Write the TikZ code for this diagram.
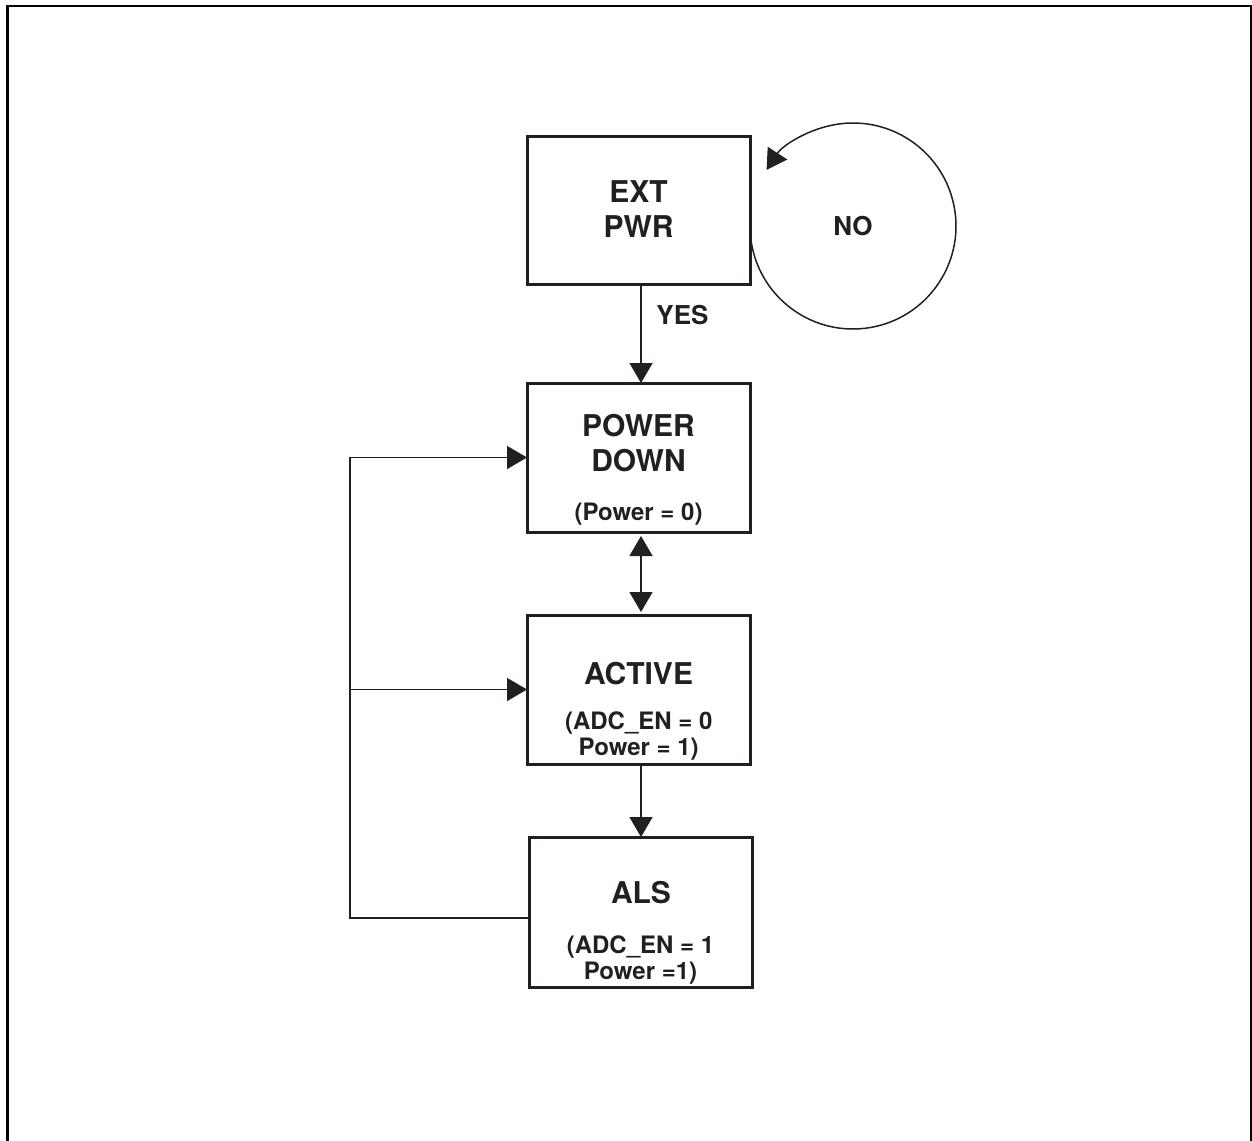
\documentclass[tikz,border=0pt]{standalone}
\usepackage{fontspec}
\setmainfont{TeX Gyre Heros}
\usetikzlibrary{arrows.meta}
\definecolor{ink}{RGB}{35,31,32}
\begin{document}
\begin{tikzpicture}[x=1pt,y=1pt, color=ink,
  box/.style={draw, line width=3pt, minimum width=223pt, minimum height=148pt, inner sep=0pt, outer sep=0pt},
  conn/.style={line width=1.5pt},
  tip/.style={-{Triangle[length=20pt,width=23pt]}},
  dtip/.style={{Triangle[length=20pt,width=23pt]}-{Triangle[length=20pt,width=23pt]}},
  ttl/.style={anchor=base, inner sep=0pt, font=\fontsize{30}{35}\selectfont\bfseries},
  sub/.style={anchor=base, inner sep=0pt, font=\fontsize{24}{27}\selectfont\bfseries},
  lbl/.style={anchor=base, inner sep=0pt, font=\fontsize{26}{30}\selectfont\bfseries}]
\useasboundingbox (0,0) rectangle (1252,-1140);
% outer frame
\draw[black, line width=2.5pt] (7.5,-1145) -- (7.5,-6) -- (1250.8,-6) -- (1250.8,-1145);
% boxes
\node[box] (ext) at (638.5,-210) {};
\node[box, minimum height=149pt] (pd) at (638.5,-457.5) {};
\node[box, minimum height=149pt] (act) at (638.5,-689.5) {};
\node[box, minimum height=150pt] (als) at (640.5,-912) {};
% texts
\node[ttl] (t1) at (638.5,-202.7) {EXT};
\node[ttl] (t2) at (638.5,-237.7) {PWR};
\node[ttl] (t3) at (638.5,-436.7) {POWER};
\node[ttl] (t4) at (638.5,-471.7) {DOWN};
\node[sub] (s1) at (638.5,-520.6) {(Power = 0)};
\node[ttl] (t5) at (638.5,-684.7) {ACTIVE};
\node[sub] (s2) at (638.7,-729.6) {(ADC\_EN = 0};
\node[sub] (s3) at (638.7,-755.6) {Power = 1)};
\node[ttl] (t6) at (641,-903.7) {ALS};
\node[sub] (s4) at (640.5,-953.6) {(ADC\_EN = 1};
\node[sub] (s5) at (640.5,-979.6) {Power =1)};
\node[lbl] (no) at (853,-235.3) {NO};
\node[lbl] (yes) at (682.5,-324.3) {YES};
% connectors
\draw[conn,tip] ([xshift=2.5pt]ext.south) -- ([xshift=2.5pt]pd.north);
\draw[conn,dtip,shorten <=4pt,shorten >=3pt] ([xshift=2.5pt]pd.south) -- ([xshift=2.5pt]act.north);
\draw[conn,tip] ([xshift=2.5pt]act.south) -- ([xshift=0.5pt]als.north);
\coordinate (lx) at (350,0);
\draw[conn,tip] ([yshift=-6pt]als.west) -- ([yshift=-6pt]als.west -| lx) |- (pd.west);
\draw[conn,tip] (act.west -| lx) -- (act.west);
% self loop
\coordinate (loopstart) at (751.4,-243);
\draw[conn,tip] (loopstart) arc[start angle=189.5, end angle=507, radius=103];
\end{tikzpicture}
\end{document}
